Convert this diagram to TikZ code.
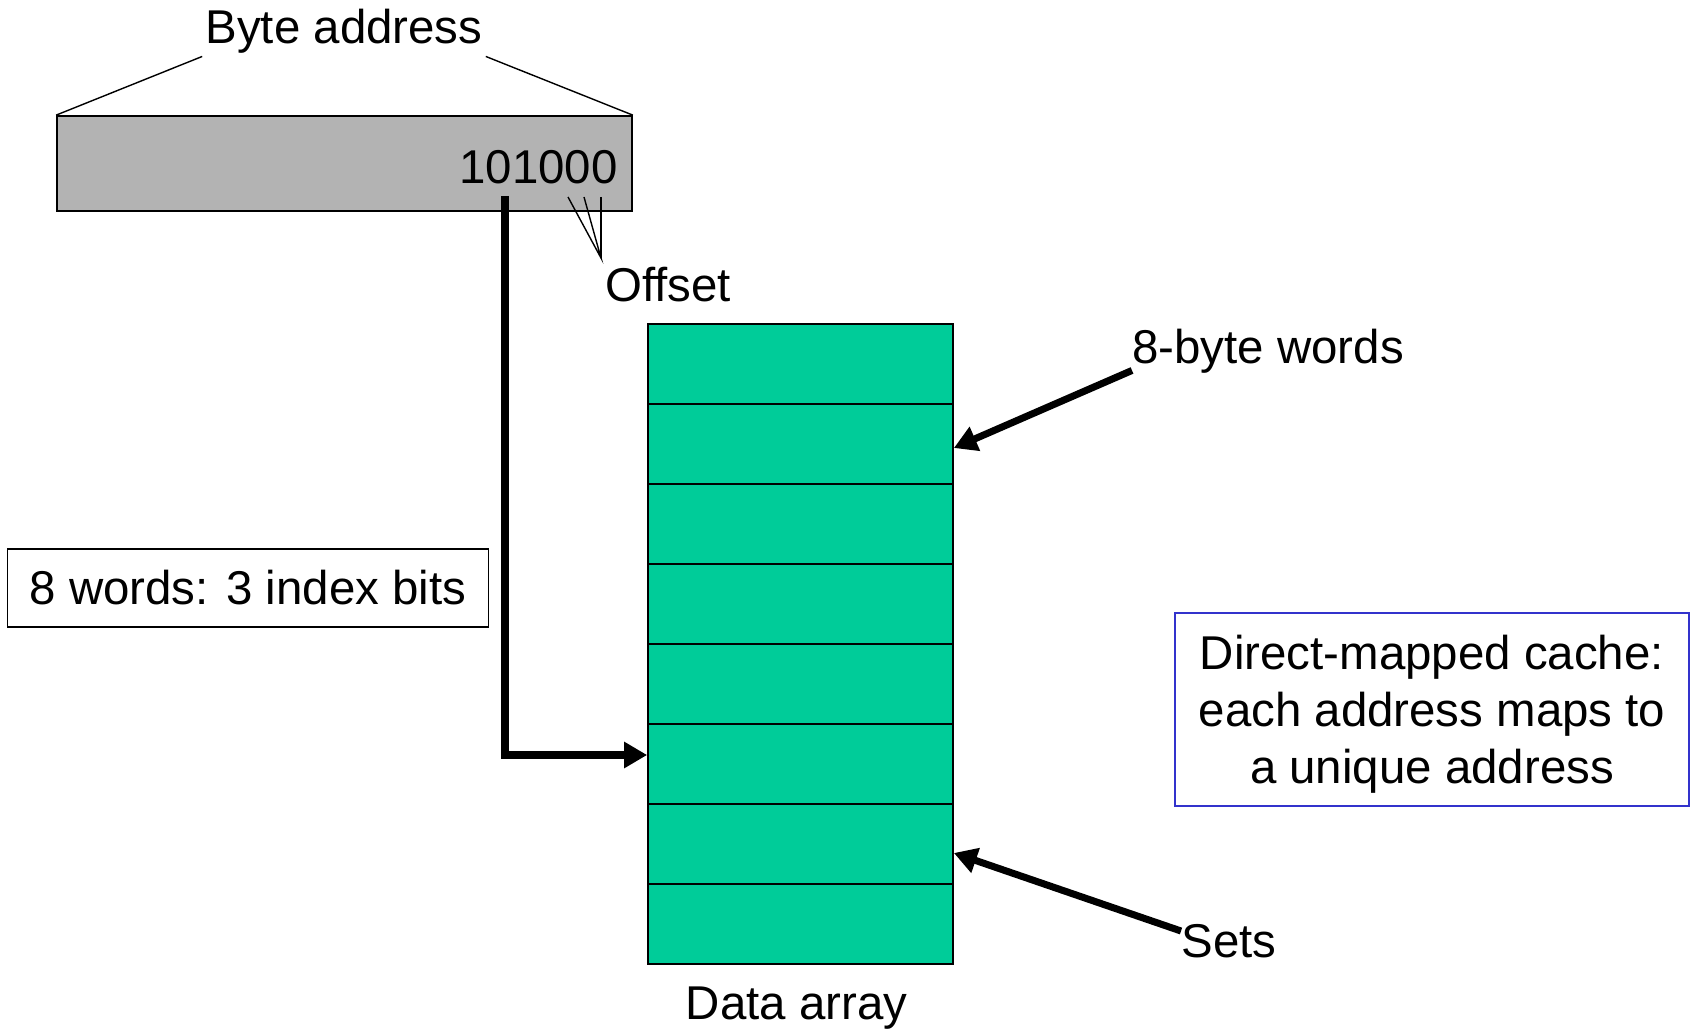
\documentclass[tikz,border=0pt]{standalone}
\usepackage{fontspec}
\setmainfont{Liberation Sans}
\usepackage{tikz}
\usetikzlibrary{arrows.meta, positioning, calc}
\definecolor{setgreen}{HTML}{00CC99}
\definecolor{addrgray}{HTML}{B3B3B3}
\definecolor{noteblue}{HTML}{3333CC}

\begin{document}
\begin{tikzpicture}[x=0.02cm, y=-0.02cm,
        lbl/.style={font=\fontsize{27}{32.4}\selectfont, inner sep=0pt},
        addr/.style={rectangle, draw=black, line width=1pt, fill=addrgray, minimum width=11.5cm, minimum height=1.9cm},
        word/.style={rectangle, draw=black, line width=1pt, fill=setgreen, minimum width=6.1cm, minimum height=1.6cm},
        note/.style={lbl, rectangle, line width=1pt, align=center},
        ptr/.style={line width=4pt, -{Triangle[length=0.46cm, width=0.5cm]}},
        thin/.style={line width=0.8pt}
    ]
        \useasboundingbox (0,0) rectangle (1694,1030);

        % Address
        \node[addr] (addr) at (344.5,163.5) {};
        \node[lbl, inner sep=0.06cm] (bytelbl) at (344,31) {Byte address};
        \draw[thin] (addr.north west) -- (bytelbl.south west);
        \draw[thin] (addr.north east) -- (bytelbl.south east);
        \node[lbl, anchor=east] (bits) at (618,167) {101000};

        % Offset
        \coordinate (off1) at (568,197);
        \coordinate (off2) at (584,197);
        \coordinate (off3) at (601,197);
        \coordinate (offtip) at (601,258);
        \node[lbl] (offlbl) at (668,285) {Offset};
        \draw[thin] (off1) -- (offtip) -- (off2);
        \draw[thin] (off3) -- (offtip);

        % Data array
        \foreach \i in {1,...,8}
            \node[word] (row\i) at (800.5,{324+80*(\i-1)+40}) {};
        \node[lbl, below=0.44cm of row8, xshift=-0.08cm] (arraylbl) {Data array};

        % Index
        \coordinate (idxtop) at (505,196);
        \draw[ptr] (idxtop) |- ([yshift=0.18cm]row6.west);
        \node[note, draw=black, minimum height=1.56cm, inner xsep=0.44cm] (idxnote) at (248,588) {8 words: 3 index bits};

        % Words and sets
        \node[lbl, anchor=west] (wordlbl) at (1132,351) {8-byte words};
        \draw[ptr] ([yshift=0.06cm]wordlbl.south west) -- ([yshift=-0.08cm]row2.east);
        \node[lbl, anchor=west] (setlbl) at (1181,941) {Sets};
        \draw[ptr] ([yshift=0.2cm]setlbl.west) -- ([yshift=-0.18cm]row7.east);

        \node[note, draw=noteblue, minimum width=10.28cm, minimum height=3.86cm] (cachenote) at (1432,709.5) {\rule{0pt}{0.87cm}Direct-mapped cache:\\each address maps to\\a unique address};
    \end{tikzpicture}
\end{document}
